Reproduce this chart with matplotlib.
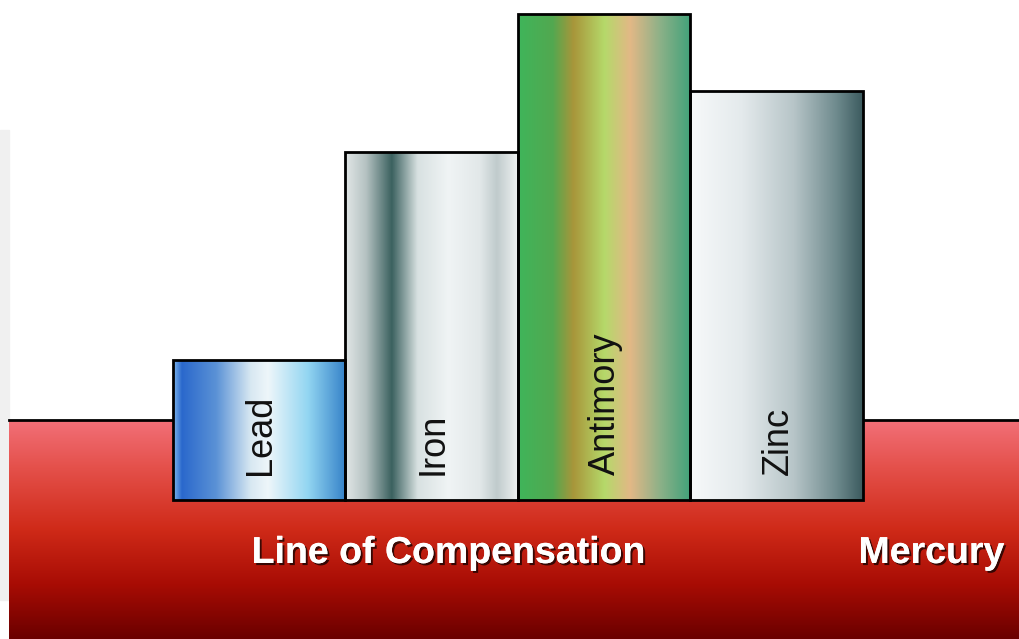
import numpy as np
import matplotlib.pyplot as plt
import matplotlib.patheffects as pe
from matplotlib.colors import LinearSegmentedColormap
from matplotlib.patches import Rectangle

# Metal bars floating in mercury
metals = ["Lead", "Iron", "Antimory", "Zinc"]
heights = [140, 348, 486, 409]
mercury_level = 80

# Horizontal shading of each bar (position, colour)
bar_shades = [
    [(0.0, "#7fb8ee"), (0.05, "#2a68cc"), (0.25, "#5b92d6"), (0.45, "#d8e8f2"),
     (0.55, "#eef6fa"), (0.78, "#93d6f2"), (1.0, "#3582c8")],
    [(0.0, "#e2e7e7"), (0.12, "#b5c2c2"), (0.27, "#3b615f"), (0.42, "#d8e1e1"),
     (0.6, "#f0f4f5"), (0.78, "#e2e8e9"), (0.88, "#c0cbcc"), (1.0, "#eef1f1")],
    [(0.0, "#3fb55a"), (0.2, "#52a850"), (0.32, "#a8963a"), (0.5, "#b5d96a"),
     (0.65, "#e2b886"), (0.82, "#8eb188"), (1.0, "#41a27a")],
    [(0.0, "#f7f9fa"), (0.3, "#e4eaec"), (0.6, "#b7c5c8"), (0.85, "#6e8a8d"),
     (1.0, "#3c5b5f")],
]

mercury_shade = [(0.0, "#6a0000"), (0.25, "#a80c04"), (0.5, "#cf2a18"),
                 (0.78, "#e4504a"), (1.0, "#f27078")]

fig = plt.figure(figsize=(10.19, 6.39), dpi=100)
ax = fig.add_axes([0, 0, 1, 1])
ax.set_xlim(-1.5, 4.407)
ax.set_ylim(-139, 500)
ax.axis("off")

# light side panel
ax.add_patch(Rectangle((-1.5, -100), 0.05, 470, color="#f0f0f0", zorder=0))

# mercury pool
x_left, x_right = -1.45, 4.407
cmap_hg = LinearSegmentedColormap.from_list("hg", mercury_shade)
grad = np.linspace(0, 1, 256).reshape(-1, 1)
ax.imshow(grad, cmap=cmap_hg, origin="lower", aspect="auto",
          extent=(x_left, x_right, -139, mercury_level), zorder=1)
ax.plot([x_left, x_right], [mercury_level, mercury_level], color="black", lw=2, zorder=2)

# bars
xs = np.arange(len(metals))
for x, h, name, shade in zip(xs, heights, metals, bar_shades):
    cmap = LinearSegmentedColormap.from_list(name, shade)
    row = np.linspace(0, 1, 256).reshape(1, -1)
    ax.imshow(row, cmap=cmap, aspect="auto",
              extent=(x - 0.5, x + 0.5, 0, h), zorder=3)
    ax.add_patch(Rectangle((x - 0.5, 0), 1, h, fill=False, ec="black", lw=2, zorder=4))
    ax.text(x + 0.01, 25, name, rotation=90, rotation_mode="anchor",
            ha="left", va="center", fontsize=26, family="Liberation Sans",
            color="#111111", zorder=5)

shadow = [pe.withSimplePatchShadow(offset=(1.5, -1.5), shadow_rgbFace="black", alpha=0.7),
          pe.Normal()]
ax.text(1.1, -53, "Line of Compensation", ha="center", va="center", fontsize=27,
        fontweight="bold", family="Liberation Sans", color="white",
        path_effects=shadow, zorder=6)
ax.text(3.9, -53, "Mercury", ha="center", va="center", fontsize=27,
        fontweight="bold", family="Liberation Sans", color="white",
        path_effects=shadow, zorder=6)

fig.savefig("out.png", dpi=100)
